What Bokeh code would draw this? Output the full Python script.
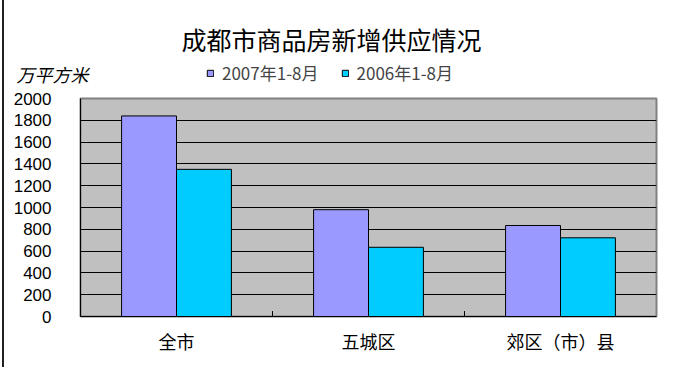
import math
from bokeh.plotting import figure
from bokeh.layouts import column
from bokeh.models import (ColumnDataSource, FactorRange, Range1d, FixedTicker, Legend, LegendItem, Label)
from bokeh.transform import dodge
from bokeh.embed import file_html
from bokeh.resources import INLINE

categories = ["全市", "五城区", "郊区（市）县"]
series_names = ["2007年1-8月", "2006年1-8月"]
series_colors = ["#9999FF", "#00CCFF"]
v2007 = [1840, 980, 835]
v2006 = [1350, 635, 722]
y_ticks = [0, 200, 400, 600, 800, 1000, 1200, 1400, 1600, 1800, 2000]
title_text = "成都市商品房新增供应情况"
unit_text = "万平方米"

CJK = "Noto Sans CJK SC"
LAT = "Liberation Sans"
W = 669
HEAD_H = 86

# ---------- header: title, unit, legend ----------
h = figure(width=W, height=HEAD_H, x_range=Range1d(0, W), y_range=Range1d(0, HEAD_H),
           x_axis_type=None, y_axis_type=None, min_border=0,
           output_backend="svg", toolbar_location=None)
h.frame_align = False
h.outline_line_color = None
h.background_fill_color = "white"
h.border_fill_color = "white"
h.xgrid.visible = False
h.ygrid.visible = False

h.add_layout(Label(x=327, y=48, text=title_text, text_align="center", text_baseline="middle",
                   text_font=CJK, text_font_size="25px", text_color="black"))
h.add_layout(Label(x=12, y=13, text=unit_text, text_align="left", text_baseline="middle",
                   text_font=CJK, text_font_size="18px", text_font_style="italic",
                   text_color="black"))

# legend-only proxies (NaN geometry, never drawn)
proxy = ColumnDataSource(dict(l=[math.nan], r=[math.nan], t=[math.nan], b=[math.nan]))
lr1 = h.quad(left="l", right="r", top="t", bottom="b", source=proxy,
             fill_color=series_colors[0], line_color="black")
lr2 = h.quad(left="l", right="r", top="t", bottom="b", source=proxy,
             fill_color=series_colors[1], line_color="black")
legend = Legend(items=[LegendItem(label=series_names[0], renderers=[lr1]),
                       LegendItem(label=series_names[1], renderers=[lr2])],
                orientation="horizontal", location=(202, 1),
                background_fill_alpha=0, border_line_color=None,
                label_text_font=CJK, label_text_font_size="17px",
                glyph_width=8, glyph_height=8, label_standoff=8, spacing=22,
                padding=0, margin=0)
h.add_layout(legend, "center")

# ---------- main chart ----------
src = ColumnDataSource(dict(cat=categories, a=v2007, b=v2006))

p = figure(x_range=FactorRange(*categories), y_range=Range1d(0, 2000),
           frame_width=576, frame_height=218,
           min_border_left=76, min_border_right=17, min_border_top=12, min_border_bottom=51,
           output_backend="svg", toolbar_location=None)
p.frame_align = False
p.background_fill_color = "#C0C0C0"
p.border_fill_color = "white"
p.outline_line_color = "#808080"
p.outline_line_width = 2

bw = 0.286
r1 = p.vbar(x=dodge("cat", -0.143, range=p.x_range), top="a", width=bw, source=src,
            fill_color=series_colors[0], line_color="black", line_width=1)
r2 = p.vbar(x=dodge("cat", 0.143, range=p.x_range), top="b", width=bw, source=src,
            fill_color=series_colors[1], line_color="black", line_width=1)

p.xgrid.visible = False
p.ygrid.grid_line_color = "black"
p.ygrid.grid_line_width = 1
p.ygrid.level = "underlay"

p.yaxis.ticker = FixedTicker(ticks=y_ticks)
p.yaxis.major_tick_out = 0
p.yaxis.major_tick_in = 0
p.yaxis.minor_tick_line_color = None
p.yaxis.axis_line_color = "black"
p.yaxis.major_label_standoff = 29
p.yaxis.major_label_text_font = LAT
p.yaxis.major_label_text_font_size = "17px"
p.yaxis.major_label_text_color = "black"

p.xaxis.major_tick_out = 0
p.xaxis.major_tick_in = 0
p.xaxis.axis_line_color = "black"
p.xaxis.major_label_standoff = 11
p.xaxis.major_label_text_font = CJK
p.xaxis.major_label_text_font_size = "18px"
p.xaxis.major_label_text_color = "black"

# boundary tick marks between categories
bsrc = ColumnDataSource(dict(cat=categories[:-1], y0=[0, 0], y1=[50, 50]))
p.segment(x0=dodge("cat", 0.5, range=p.x_range), x1=dodge("cat", 0.5, range=p.x_range),
          y0="y0", y1="y1", source=bsrc, line_color="black", line_width=1)

layout = column(h, p, spacing=0,
                styles={"border-left": "2px solid #202020", "margin-left": "2px"})
open("out.html", "w").write(file_html(layout, INLINE))
